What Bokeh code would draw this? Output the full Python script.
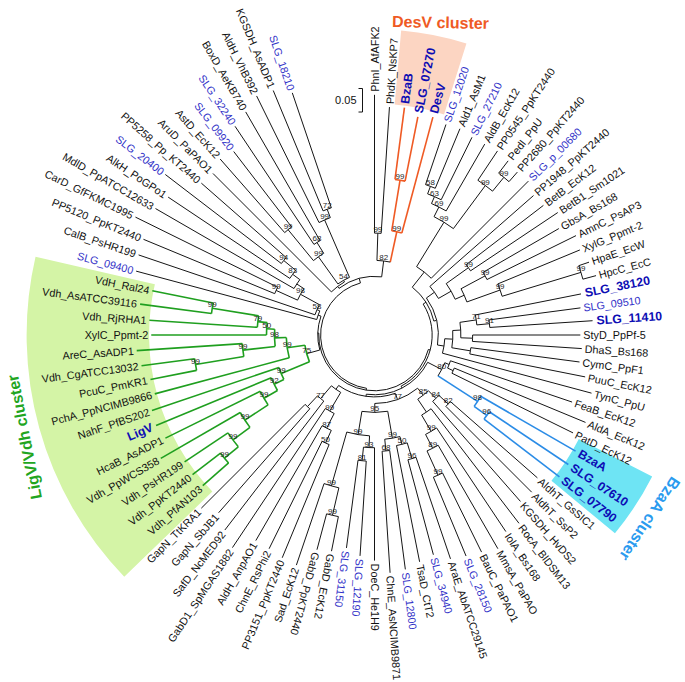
import math
from bokeh.plotting import figure
from bokeh.models import ColumnDataSource, Range1d
from bokeh.embed import file_html
from bokeh.resources import INLINE
from bokeh.core.properties import value

# ---------------- data ----------------
leaf_names = [
    "SLG_12020", "Ald1_AsM1", "SLG_27210", "AldB_EcK12", "PP0545_PpKT2440", "PedI_PpU", "PP2680_PpKT2440", "SLG_p_00680",
    "PP1948_PpKT2440", "BetB_EcK12", "BetB1_Sm1021", "GbsA_Bs168", "AmnC_PsAP3", "XylG_Ppmt-2", "HpaE_EcW", "HpcC_EcC",
    "SLG_38120", "SLG_09510", "SLG_11410", "StyD_PpPf-5", "DhaS_Bs168", "CymC_PpF1", "PuuC_EcK12", "TynC_PpU",
    "FeaB_EcK12", "AldA_EcK12", "PatD_EcK12", "BzaA", "SLG_07610", "SLG_07790",
    "AldhT_GsSIC1", "AldhT_SsP2", "KGSDH_HvDS2", "RocA_BlDSM13", "IolA_Bs168", "MmsA_PaPAO", "BauC_PaPAO1", "SLG_28150",
    "AraE_AbATCC29145", "SLG_34940", "TsaD_CtT2", "SLG_12800", "ChnE_AsNCIMB9871", "DoeC_He1H9", "SLG_12190", "SLG_31150",
    "GabD_EcK12", "GabD_PpKT2440", "Sad_EcK12", "PP3151_PpKT2440", "ChnE_RsPhi2", "AldH_AnpAO1", "GabD1_SpMGAS1882",
    "SafD_NcMED92", "GapN_SbJB1", "GapN_TtKRA1",
    "Vdh_PfAN103", "Vdh_PpKT2440", "Vdh_PsHR199", "Vdh_PpWCS358", "HcaB_AsADP1", "LigV", "NahF_PfBS202", "PchA_PpNCIMB9866",
    "PcuC_PmKR1", "Vdh_CgATCC13032", "AreC_AsADP1", "XylC_Ppmt-2", "Vdh_RjRHA1", "Vdh_AsATCC39116", "VdH_Ral24",
    "SLG_09400", "CalB_PsHR199", "PP5120_PpKT2440", "CarD_GfFKMC1995", "MdlD_PpATCC12633", "AlkH_PoGPo1", "SLG_20400",
    "PP5258_Pp_KT2440", "AruD_PaPAO1", "AstD_EcK12", "SLG_09920", "SLG_32240", "BoxD_AeKB740", "AldH_VhB392", "KGSDH_AsADP1",
    "SLG_18210", "PhnI_AfAFK2", "PhdK_NsKP7", "BzaB", "SLG_07270", "DesV",
]

# distance of each leaf tip from the root (substitutions per site)
tip_depth = [
    0.358, 0.360, 0.354, 0.354, 0.356, 0.352, 0.346, 0.348,
    0.335, 0.338, 0.354, 0.338, 0.363, 0.358, 0.367, 0.373,
    0.333, 0.327, 0.350, 0.323, 0.327, 0.325, 0.342, 0.363,
    0.329, 0.371, 0.356, 0.379, 0.381, 0.381,
    0.346, 0.358, 0.356, 0.390, 0.388, 0.410, 0.400, 0.394,
    0.388, 0.369, 0.377, 0.388, 0.392, 0.365, 0.356, 0.342,
    0.354, 0.358, 0.402, 0.398, 0.392, 0.390, 0.429,
    0.408, 0.388, 0.406,
    0.371, 0.373, 0.371, 0.410, 0.381, 0.388, 0.385, 0.369,
    0.371, 0.385, 0.392, 0.360, 0.365, 0.388, 0.367,
    0.410, 0.415, 0.417, 0.452, 0.423, 0.413, 0.446,
    0.375, 0.371, 0.383, 0.377, 0.419, 0.433, 0.452, 0.448,
    0.429, 0.396, 0.371, 0.373, 0.358, 0.365,
]

bold_blue_labels = ["BzaB", "SLG_07270", "DesV", "SLG_38120", "SLG_11410", "BzaA", "SLG_07610", "SLG_07790", "LigV"]
blue_labels = ["SLG_12020", "SLG_27210", "SLG_p_00680", "SLG_09510", "SLG_28150", "SLG_34940", "SLG_12800",
               "SLG_12190", "SLG_31150", "SLG_09400", "SLG_20400", "SLG_09920", "SLG_32240", "SLG_18210"]

scale_bar_value = 0.05


def N(depth, boot, *kids, clade=None):
    return {"d": depth, "b": boot, "k": list(kids), "clade": clade}


# tree topology: N(node depth, bootstrap, children...)
R1 = N(0.056, None,
       N(0.167, 99,
         N(0.190, 69,
           N(0.206, 63, N(0.223, 58, "SLG_12020", "Ald1_AsM1"), "SLG_27210"),
           "AldB_EcK12"),
         N(0.281, 99, "PP0545_PpKT2440", N(0.319, 99, "PedI_PpU", "PP2680_PpKT2440"))),
       "SLG_p_00680")

R2 = N(0.042, None, "PP1948_PpKT2440",
       N(0.073, None,
         N(0.131, 99, "BetB_EcK12", "BetB1_Sm1021"),
         N(0.094, None,
           N(0.152, 99, "GbsA_Bs168", "AmnC_PsAP3"),
           N(0.169, 99, "XylG_Ppmt-2", N(0.344, 99, "HpaE_EcW", "HpcC_EcC")))))

R3 = N(0.035, None,
       N(0.052, None,
         N(0.069, None,
           N(0.104, 71, "SLG_38120", N(0.131, 91, "SLG_09510", "SLG_11410")),
           N(0.094, None, "StyD_PpPf-5", "DhaS_Bs168")),
         N(0.092, None, "CymC_PpF1", "PuuC_EcK12")),
       "TynC_PpU")

RA = N(0.015, None, R1, N(0.021, None, R2, R3))

B80 = N(0.046, 80,
        N(0.056, None, "FeaB_EcK12", N(0.069, None, "AldA_EcK12", "PatD_EcK12")),
        N(0.146, 98, "BzaA", N(0.179, 96, "SLG_07610", "SLG_07790"), clade="bzaa"))

A85 = N(0.050, 85,
        N(0.073, 84, N(0.100, 82, "AldhT_GsSIC1", "AldhT_SsP2"), "KGSDH_HvDS2"),
        N(0.083, None, "RocA_BlDSM13",
          N(0.123, 99, "IolA_Bs168",
            N(0.156, 89, "MmsA_PaPAO", N(0.2125, 99, "BauC_PaPAO1", "SLG_28150")))))

B95 = N(0.050, 95,
        N(0.108, 99,
          N(0.125, 50, N(0.160, 96, "AraE_AbATCC29145", "SLG_34940"), "TsaD_CtT2"),
          N(0.133, 68, "SLG_12800", "ChnE_AsNCIMB9871")),
        N(0.100, 99,
          N(0.125, 93, "DoeC_He1H9", N(0.154, 81, "SLG_12190", "SLG_31150")),
          N(0.219, 99, N(0.279, 99, "GabD_EcK12", "GabD_PpKT2440"), "Sad_EcK12")))

LL = N(0.027, None,
       N(0.073, 99,
         N(0.108, 87, N(0.1375, 50, "PP3151_PpKT2440", "ChnE_RsPhi2"), "AldH_AnpAO1"),
         "GabD1_SpMGAS1882"),
       N(0.0625, 77, "SafD_NcMED92", N(0.094, None, "GapN_SbJB1", "GapN_TtKRA1")))

RB = N(0.0125, None, B80, N(0.017, None, N(0.031, 77, A85, B95), LL))

LOWER = N(0.100, 99,
          N(0.123, 92,
            N(0.156, 99,
              N(0.215, 99,
                N(0.260, 99, N(0.298, 99, "Vdh_PfAN103", "Vdh_PpKT2440"), "Vdh_PsHR199"),
                "Vdh_PpWCS358"),
              "HcaB_AsADP1"),
            "LigV"),
          "NahF_PfBS202")
UPPER = N(0.073, 99, "PchA_PpNCIMB9866",
          N(0.098, 98,
            N(0.167, 99, N(0.271, 99, "PcuC_PmKR1", "Vdh_CgATCC13032"), "AreC_AsADP1"),
            N(0.115, 50, "XylC_Ppmt-2",
              N(0.135, 79, "Vdh_RjRHA1", N(0.235, 99, "Vdh_AsATCC39116", "VdH_Ral24")))))
LIGV = N(0.035, 75, LOWER, UPPER, clade="ligv")

UL = N(0.0125, None, "SLG_09400",
       N(0.019, 58, "CalB_PsHR199",
         N(0.065, 98,
           N(0.115, 99, "PP5120_PpKT2440", "CarD_GfFKMC1995"),
           N(0.083, None, "MdlD_PpATCC12633",
             N(0.102, 83, "AlkH_PoGPo1", N(0.135, 94, "SLG_20400", "PP5258_Pp_KT2440"))))))

QA = N(0.015, None, "AruD_PaPAO1",
       N(0.019, 54,
         N(0.090, 99, N(0.175, 99, "AstD_EcK12", "SLG_09920"), N(0.117, 68, "SLG_32240", "BoxD_AeKB740")),
         N(0.152, 99, "AldH_VhB392", N(0.171, 72, "KGSDH_AsADP1", "SLG_18210"))))

T82 = N(0.044, 82,
        N(0.102, 99, "PhnI_AfAFK2", "PhdK_NsKP7"),
        N(0.110, 99, N(0.219, 99, "BzaB", "SLG_07270"), "DesV", clade="desv"))

tree = N(0.0, None,
         N(0.004, None, N(0.008, None, RA, RB), N(0.006, None, LIGV, UL)),
         N(0.010, None, QA, T82))

# ---------------- layout / style ----------------
K = 0.98                 # overall drawing scale
R0 = 55.0 * K            # radius of the root circle (px)
SCALE = 480.0 * K        # px per substitution/site
START = 18.75            # angle of first leaf (deg, clockwise from top)
STEP = 3.75              # angular step between leaves
GAP_BEFORE = "PhnI_AfAFK2"
GAP_SLOTS = 4
FLIP_AT = 197.0          # labels beyond this angle read towards the centre

BLACK = "#151515"
ORANGE = "#ef5a24"
GREEN = "#1f9f1f"
BLUEBR = "#2b8ce6"
clade_style = {  # color, stem colored?
    "desv": (ORANGE, True),
    "bzaa": (BLUEBR, True),
    "ligv": (GREEN, False),
}

FONT = "Liberation Sans"

theta = {}
slot = 0
for nm in leaf_names:
    if nm == GAP_BEFORE:
        slot += GAP_SLOTS
    theta[nm] = START + STEP * slot
    slot += 1
tip = dict(zip(leaf_names, tip_depth))


def pol(r, th):
    t = math.radians(th)
    return r * math.sin(t), r * math.cos(t)


seg = dict(x0=[], y0=[], x1=[], y1=[], c=[], w=[])
arc = dict(r=[], a0=[], a1=[], c=[], w=[])
boot = dict(x=[], y=[], t=[])


def add_seg(r0, r1, th, c):
    x0, y0 = pol(r0, th)
    x1, y1 = pol(r1, th)
    seg["x0"].append(x0); seg["y0"].append(y0)
    seg["x1"].append(x1); seg["y1"].append(y1)
    seg["c"].append(c); seg["w"].append(1.0 if c == BLACK else 1.6)


def layout(node, parent_r, color):
    if isinstance(node, str):
        th = theta[node]
        add_seg(parent_r, R0 + tip[node] * SCALE, th, color)
        return th
    r = R0 + node["d"] * SCALE
    stem_c = color
    sub_c = color
    if node["clade"]:
        cc, stem_flag = clade_style[node["clade"]]
        sub_c = cc
        if stem_flag:
            stem_c = cc
    ths = [layout(k, r, sub_c) for k in node["k"]]
    th = (ths[0] + ths[-1]) / 2.0
    arc["r"].append(r)
    arc["a0"].append(math.radians(90 - ths[-1]))
    arc["a1"].append(math.radians(90 - ths[0]))
    arc["c"].append(sub_c)
    arc["w"].append(1.0 if sub_c == BLACK else 1.6)
    if parent_r is not None:
        add_seg(parent_r, r, th, stem_c)
    if node["b"] is not None:
        x, y = pol(r, th)
        boot["x"].append(x); boot["y"].append(y + 1)
        boot["t"].append(str(node["b"]))
    return th


layout(tree, None, BLACK)

p = figure(width=685, height=682, x_range=Range1d(-374, 311), y_range=Range1d(-347.5, 334.5),
           output_backend="svg", toolbar_location=None, min_border=0)
p.axis.visible = False
p.xgrid.visible = False
p.ygrid.visible = False
p.outline_line_color = None
p.background_fill_color = "white"


# ---- cluster shading ----
def wedge(th0, th1, r0, r1, col):
    p.annular_wedge(x=0, y=0, inner_radius=r0 * K, outer_radius=r1 * K,
                    start_angle=math.radians(90 - th1), end_angle=math.radians(90 - th0),
                    fill_color=col, line_color=None)


wedge(365.0, 377.5, 236, 312, "#fcd5c2")
wedge(117.0, 129.5, 234, 318, "#6ee4f4")
wedge(226.0, 283.0, 230, 355, "#d4f4a6")

# ---- branches ----
p.segment(x0="x0", y0="y0", x1="x1", y1="y1", line_color="c", line_width="w",
          source=ColumnDataSource(seg))
p.arc(x=0, y=0, radius="r", start_angle="a0", end_angle="a1", line_color="c", line_width="w",
      source=ColumnDataSource(arc))

# ---- bootstrap values ----
p.text(x="x", y="y", text="t", source=ColumnDataSource(boot), text_font=value(FONT),
       text_font_size="8px", text_color="#1e1e1e", text_align="center", text_baseline="bottom")

# ---- leaf labels ----
groups = {}
for nm in leaf_names:
    th = theta[nm] % 360
    if nm in bold_blue_labels:
        style = "bold"
    elif nm in blue_labels:
        style = "blue"
    else:
        style = "black"
    right = th < FLIP_AT
    gap = 4 if style == "bold" else 3
    x, y = pol(R0 + tip[nm] * SCALE + gap, th)
    ang = math.radians(90 - th) if right else math.radians(270 - th)
    g = groups.setdefault((style, right), dict(x=[], y=[], t=[], a=[]))
    g["x"].append(x); g["y"].append(y); g["t"].append(nm); g["a"].append(ang)

style_props = {
    "black": ("#111111", "10.8px", "normal"),
    "blue": ("#3232c8", "10.8px", "normal"),
    "bold": ("#0d0db4", "12.3px", "bold"),
}
for (style, right), g in groups.items():
    col, size, weight = style_props[style]
    p.text(x="x", y="y", text="t", angle="a", source=ColumnDataSource(g),
           text_font=value(FONT), text_font_size=size, text_font_style=weight,
           text_color=col, text_align="left" if right else "right", text_baseline="middle")

# ---- cluster titles ----
p.text(x=[66], y=[312.5], text=["DesV cluster"], angle=[-0.02], text_font=value(FONT),
       text_font_size="16px", text_font_style="bold", text_color=ORANGE,
       text_align="center", text_baseline="middle")
p.text(x=[275], y=[-184], text=["BzaA cluster"], angle=[math.radians(-123.5)], text_font=value(FONT),
       text_font_size="16px", text_font_style="bold", text_color="#2a9bef",
       text_align="center", text_baseline="middle")
p.text(x=[-350], y=[-102], text=["LigV/Vdh cluster"], angle=[math.radians(101)], text_font=value(FONT),
       text_font_size="16px", text_font_style="bold", text_color="#22a51f",
       text_align="center", text_baseline="middle")

# ---- scale bar ----
sb_len = scale_bar_value * SCALE
sb_x, sb_top = -12, 246.5
p.segment(x0=[sb_x, sb_x - 4, sb_x - 4], y0=[sb_top, sb_top, sb_top - sb_len],
          x1=[sb_x, sb_x, sb_x], y1=[sb_top - sb_len, sb_top, sb_top - sb_len],
          line_color=BLACK, line_width=1)
p.text(x=[sb_x - 6], y=[sb_top - sb_len / 2], text=[str(scale_bar_value)], text_font=value(FONT),
       text_font_size="11px", text_color="#111111", text_align="right", text_baseline="middle")

open("out.html", "w").write(file_html(p, INLINE))
